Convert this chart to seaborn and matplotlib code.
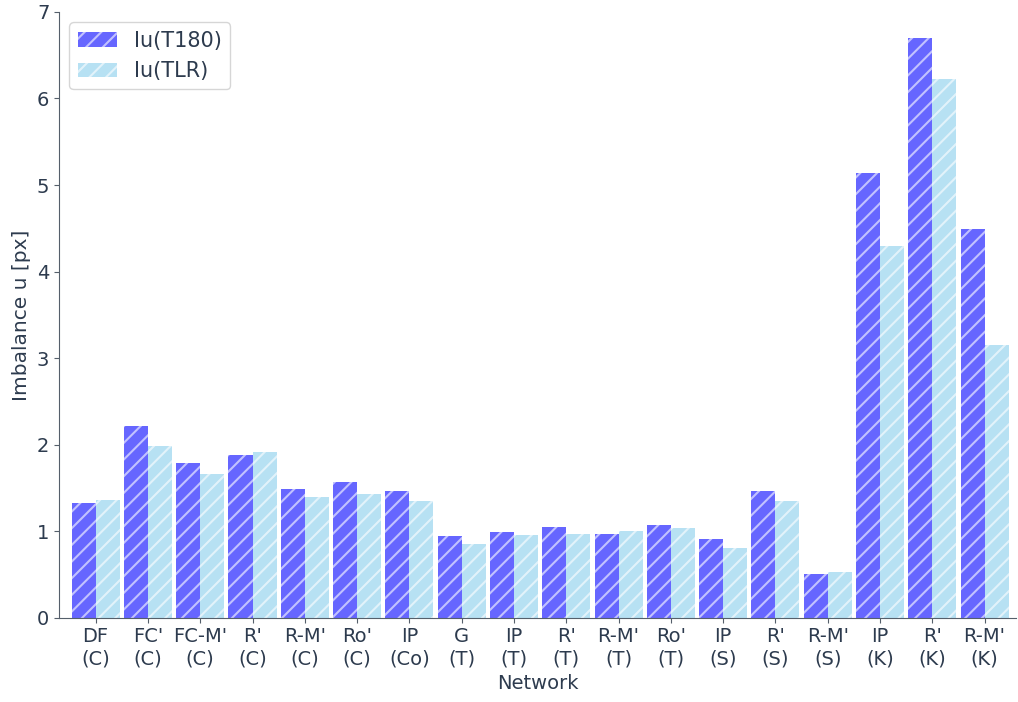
import pandas as pd
import seaborn as sns
import matplotlib.pyplot as plt

networks = ["DF\n(C)", "FC'\n(C)", "FC-M'\n(C)", "R'\n(C)", "R-M'\n(C)", "Ro'\n(C)",
            "IP\n(Co)", "G\n(T)", "IP\n(T)", "R'\n(T)", "R-M'\n(T)", "Ro'\n(T)",
            "IP\n(S)", "R'\n(S)", "R-M'\n(S)", "IP\n(K)", "R'\n(K)", "R-M'\n(K)"]
iu_t180 = [1.33, 2.21, 1.79, 1.88, 1.49, 1.57, 1.46, 0.94, 0.99, 1.05, 0.97, 1.07,
           0.91, 1.47, 0.50, 5.14, 6.70, 4.49]
iu_tlr = [1.36, 1.99, 1.66, 1.91, 1.39, 1.43, 1.35, 0.85, 0.96, 0.97, 1.00, 1.04,
          0.81, 1.35, 0.53, 4.30, 6.22, 3.15]
series = ["Iu(T180)", "Iu(TLR)"]

df = pd.DataFrame({
    "Network": networks * 2,
    "value": iu_t180 + iu_tlr,
    "series": [series[0]] * len(networks) + [series[1]] * len(networks),
})

sns.set_style("ticks")
txt = "#2d3b4e"
plt.rcParams["text.color"] = txt
plt.rcParams["axes.labelcolor"] = txt
plt.rcParams["xtick.color"] = "#555f6b"
plt.rcParams["ytick.color"] = "#555f6b"
plt.rcParams["xtick.labelcolor"] = txt
plt.rcParams["ytick.labelcolor"] = txt
plt.rcParams["hatch.linewidth"] = 1.5

fig, ax = plt.subplots(figsize=(10.18, 7.02), dpi=100)
sns.barplot(data=df, x="Network", y="value", hue="series",
            palette=["blue", "skyblue"], alpha=0.6, width=0.92, saturation=1,
            edgecolor="white", linewidth=0, ax=ax)

for cont in ax.containers:
    for p in cont:
        p.set_hatch("//")

leg = ax.legend(loc="upper left", fontsize=15, handlelength=1.9)
for h in leg.legend_handles:
    h.set_hatch("//")
    h.set_edgecolor("white")

ax.set_ylim(0, 7)
ax.set_xlim(-0.70, 17.60)
ax.set_ylabel("Imbalance u [px]", fontsize=14.5)
ax.set_xlabel("Network", fontsize=14)
ax.tick_params(axis="both", labelsize=14)
for s in ["left", "bottom"]:
    ax.spines[s].set_color("#555f6b")
sns.despine(ax=ax)

fig.subplots_adjust(left=0.058, right=0.998, top=0.983, bottom=0.12)
fig.savefig("out.png", dpi=100)
